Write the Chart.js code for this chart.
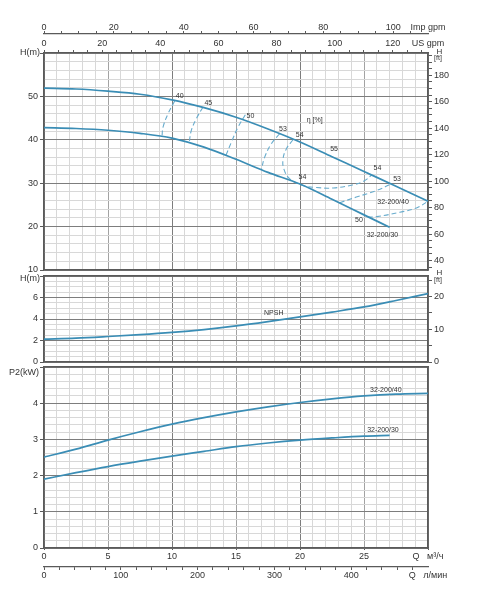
<!DOCTYPE html>
<html>
<head>
<meta charset="utf-8">
<script src="https://cdn.jsdelivr.net/npm/chart.js@4.4.0/dist/chart.umd.min.js"></script>
<style>
  html, body { margin: 0; padding: 0; background: #fff; }
  #wrap { position: relative; width: 478px; height: 600px; }
  canvas { position: absolute; left: 0; top: 0; }
</style>
</head>
<body>
<div id="wrap">
  <canvas id="head-chart" width="478" height="600"></canvas>
  <canvas id="npsh-chart" width="478" height="600"></canvas>
  <canvas id="power-chart" width="478" height="600"></canvas>
</div>
<script>
// Head curves, Q in m3/h, H in m
let qHead40 = [0, 2.5, 5, 7.5, 10, 12.5, 15, 17.5, 20, 22.5, 25, 27.5, 30];
let head40 = [51.9, 51.7, 51.2, 50.5, 49.2, 47.4, 45.2, 42.5, 39.5, 36.1, 32.7, 29.3, 25.85];
let qHead30 = [0, 2.5, 5, 7.5, 10, 12.5, 15, 17.5, 20, 22.5, 25, 27];
let head30 = [42.8, 42.6, 42.2, 41.5, 40.4, 38.3, 35.5, 32.5, 29.8, 26.3, 22.7, 19.85];

// Iso-efficiency lines (dashed)
let eff40Q = [10.21, 9.69, 9.30, 9.22];
let eff40H = [48.93, 46.0, 42.93, 40.78];
let eff45Q = [12.42, 11.9, 11.51, 11.33];
let eff45H = [47.54, 44.85, 42.16, 39.08];
let eff50Q = [15.73, 15.16, 14.64, 14.2];
let eff50H = [45.78, 42.93, 39.47, 36.31];
let eff53Q = [18.41, 17.76, 17.24, 16.98];
let eff53H = [41.39, 39.08, 36.0, 33.08];
let eff54Q = [19.45, 18.93, 18.67, 18.75, 19.2, 20.2, 21.3, 22.6, 24.1, 25.0, 25.6];
let eff54H = [40.0, 37.9, 35.5, 33.2, 31.0, 29.5, 29.0, 28.9, 29.6, 30.5, 31.9];
let eff53bQ = [23.1, 24.4, 25.97, 27.1];
let eff53bH = [25.5, 26.8, 28.3, 29.8];
let eff50bQ = [25.3, 26.0, 27.8, 29.1, 30.0];
let eff50bH = [22.2, 22.3, 23.3, 24.3, 25.85];

// NPSH, m
let qNpsh = [0, 2.5, 5, 7.5, 10, 12.5, 15, 17.5, 20, 22.5, 25, 27.5, 30];
let npsh = [2.13, 2.22, 2.37, 2.54, 2.75, 3.02, 3.36, 3.76, 4.19, 4.64, 5.12, 5.72, 6.36];

// Shaft power P2, kW
let qPower40 = [0, 2.5, 5, 7.5, 10, 12.5, 15, 17.5, 20, 22.5, 25, 27.5, 30];
let power40 = [2.51, 2.73, 2.98, 3.21, 3.42, 3.60, 3.76, 3.90, 4.02, 4.12, 4.20, 4.25, 4.27];
let qPower30 = [0, 2.5, 5, 7.5, 10, 12.5, 15, 17.5, 20, 22.5, 25, 27];
let power30 = [1.90, 2.08, 2.25, 2.40, 2.54, 2.67, 2.80, 2.90, 2.98, 3.04, 3.09, 3.11];

// Notes written on the curves
let headNotes = ['40', '45', '50', '53', '54', 'η [%]', '55', '54', '53', '54', '32-200/40', '50', '32-200/30'];
let headNotesQ = [10.6, 12.84, 16.13, 18.67, 19.98, 21.15, 22.66, 26.05, 27.58, 20.19, 27.27, 24.61, 26.44];
let headNotesH = [50.17, 48.46, 45.46, 42.55, 41.17, 44.47, 37.94, 33.46, 30.85, 31.38, 25.61, 21.55, 18.16];
let npshNotes = ['NPSH'];
let npshNotesQ = [17.95];
let npshNotesH = [4.51];
let powerNotes = ['32-200/40', '32-200/30'];
let powerNotesQ = [26.7, 26.48];
let powerNotesP = [4.36, 3.26];

// Tick labels
let m3hLabels = [0, 5, 10, 15, 20, 25];
let lminLabels = [0, 100, 200, 300, 400];
let usLabels = [0, 20, 40, 60, 80, 100, 120];
let impLabels = [0, 20, 40, 60, 80, 100];
let headLabels = [10, 20, 30, 40, 50];
let headFtLabels = [40, 60, 80, 100, 120, 140, 160, 180];
let npshLabels = [0, 2, 4, 6];
let npshFtLabels = [0, 10, 20];
let powerLabels = [0, 1, 2, 3, 4];

// unit conversions
const Q_MAX = 30;
const M3H_TO_LMIN = 1000 / 60;
const M3H_TO_US = 1000 / 60 / 3.785411784;
const M3H_TO_IMP = 1000 / 60 / 4.54609;
const M_TO_FT = 1 / 0.3048;

const CURVE = 'rgb(58, 141, 181)';
const DASH = 'rgb(104, 172, 205)';
const BORDER = '#5a5a5a';
const MAJOR = '#7d7d7d';
const MID = '#a3a3a3';
const MINOR = '#d8d8d8';
const TEXT = '#333';

Chart.defaults.font.family = '"Liberation Sans", Arial, sans-serif';
Chart.defaults.font.size = 9;
Chart.defaults.color = TEXT;

function near(v, list) {
  return list.some(l => Math.abs(l - v) < 1e-6);
}
function multiple(v, step) {
  let r = v / step;
  return Math.abs(r - Math.round(r)) < 1e-6;
}
function curve(xs, ys, dashed) {
  return {
    data: xs.map((x, i) => ({x: x, y: ys[i]})),
    borderColor: dashed ? DASH : CURVE,
    borderWidth: dashed ? 1.1 : 1.7,
    borderDash: dashed ? [5, 3] : [],
    pointRadius: 0,
    fill: false,
    tension: 0.4,
    cubicInterpolationMode: dashed ? 'default' : 'monotone'
  };
}
function notes(texts, qs, vs) {
  return texts.map((t, i) => ({text: t, q: qs[i], v: vs[i]}));
}
function flowGridColor(c) {
  let v = c.tick.value;
  if (multiple(v, 10)) return MAJOR;
  return multiple(v, 5) ? MID : MINOR;
}

// flow grid axis shared by the three panels
function flowAxis(extra) {
  return Object.assign({
    type: 'linear',
    position: 'bottom',
    min: 0,
    max: Q_MAX,
    ticks: {display: false, stepSize: 1},
    grid: {color: flowGridColor, drawTicks: false},
    border: {color: BORDER, width: 1.6},
    afterFit: s => { s.height = 0; }
  }, extra);
}

// extra flow unit axis (gpm, l/min)
function unitAxis(position, factor, labels, caption, weight, tickStep, height, padding) {
  let max = Q_MAX * factor;
  return {
    type: 'linear',
    position: position,
    weight: weight,
    min: 0,
    max: max,
    afterBuildTicks: s => {
      let t = [];
      for (let v = 0; v < max - 0.5; v += tickStep) t.push({value: v});
      t.push({value: max});
      s.ticks = t;
    },
    ticks: {
      autoSkip: false, maxRotation: 0, minRotation: 0, padding: padding,
      font: {size: 9, lineHeight: 1},
      callback: (v, i, ticks) => i === ticks.length - 1 ? caption : (near(v, labels) ? String(v) : '')
    },
    grid: {
      drawOnChartArea: false, tickLength: 3,
      tickColor: c => c.index === c.scale.ticks.length - 1 ? 'transparent' : BORDER
    },
    border: {color: BORDER, width: 1.2},
    afterFit: s => { s.height = height; }
  };
}

function valueAxis(min, max, step, majorStep, labels) {
  return {
    type: 'linear',
    position: 'left',
    min: min,
    max: max,
    ticks: {
      stepSize: step, autoSkip: false, padding: 2,
      callback: v => near(v, labels) ? String(v) : ''
    },
    grid: {
      color: c => multiple(c.tick.value, majorStep) ? MAJOR : MINOR,
      tickLength: 4,
      tickColor: c => multiple(c.tick.value, majorStep) ? BORDER : 'transparent'
    },
    border: {color: BORDER, width: 1.6},
    afterFit: s => { s.width = 44; }
  };
}

function feetAxis(minM, maxM, step, labels) {
  let min = minM * M_TO_FT, max = maxM * M_TO_FT;
  return {
    type: 'linear',
    position: 'right',
    min: min,
    max: max,
    afterBuildTicks: s => {
      let t = [];
      for (let v = Math.ceil(min / step) * step; v <= max; v += step) t.push({value: v});
      s.ticks = t;
    },
    ticks: {
      autoSkip: false, padding: 2,
      callback: v => near(v, labels) ? String(v) : ''
    },
    grid: {drawOnChartArea: false, tickLength: 4, tickColor: BORDER},
    border: {color: BORDER, width: 1.6},
    afterFit: s => { s.width = 50; }
  };
}

function frameAxis(position) {
  let horizontal = position === 'top';
  return {
    type: 'linear',
    position: position,
    min: 0,
    max: 1,
    ticks: {display: false},
    grid: {drawOnChartArea: false, drawTicks: false},
    border: {color: BORDER, width: 1.6},
    afterFit: s => { if (horizontal) s.height = 0; else s.width = 50; }
  };
}

// writes the curve notes and the axis titles
const captions = {
  id: 'captions',
  afterDraw(chart, args, opts) {
    const ctx = chart.ctx;
    const area = chart.chartArea;
    const xs = chart.scales.x, ys = chart.scales.y;
    ctx.save();
    ctx.fillStyle = TEXT;
    ctx.textBaseline = 'middle';
    ctx.textAlign = 'center';
    ctx.font = '7px "Liberation Sans", Arial, sans-serif';
    (opts.notes || []).forEach(n => {
      ctx.fillText(n.text, xs.getPixelForValue(n.q), ys.getPixelForValue(n.v));
    });
    (opts.titles || []).forEach(t => {
      ctx.font = t.size + 'px "Liberation Sans", Arial, sans-serif';
      ctx.textAlign = t.align;
      let x = (t.side === 'left' ? area.left : area.right) + t.dx;
      ctx.fillText(t.text, x, area.top + t.dy);
    });
    ctx.restore();
  }
};

const common = {
  responsive: false,
  animation: false,
  events: [],
  plugins: {legend: {display: false}, tooltip: {enabled: false}}
};

// Head panel
new Chart(document.getElementById('head-chart'), {
  type: 'line',
  data: {
    datasets: [
      curve(qHead40, head40, false),
      curve(qHead30, head30, false),
      curve(eff40Q, eff40H, true),
      curve(eff45Q, eff45H, true),
      curve(eff50Q, eff50H, true),
      curve(eff53Q, eff53H, true),
      curve(eff54Q, eff54H, true),
      curve(eff53bQ, eff53bH, true),
      curve(eff50bQ, eff50bH, true)
    ]
  },
  options: Object.assign({}, common, {
    layout: {padding: {top: 20, bottom: 330, left: 0, right: 0}},
    scales: {
      x: flowAxis({}),
      imp: unitAxis('top', M3H_TO_IMP, impLabels, 'Imp gpm', 2, 5, 14, -1.5),
      us: unitAxis('top', M3H_TO_US, usLabels, 'US gpm', 1, 5, 19, 1.7),
      y: valueAxis(10, 60, 2, 10, headLabels),
      ft: feetAxis(10, 60, 5, headFtLabels)
    },
    plugins: Object.assign({}, common.plugins, {
      captions: {
        notes: notes(headNotes, headNotesQ, headNotesH),
        titles: [
          {text: 'H(m)', side: 'left', dx: -4, dy: 0, align: 'right', size: 9},
          {text: 'H', side: 'right', dx: 11.5, dy: -1.5, align: 'center', size: 8},
          {text: '[ft]', side: 'right', dx: 10, dy: 5, align: 'center', size: 7}
        ]
      }
    })
  }),
  plugins: [captions]
});

// NPSH panel
new Chart(document.getElementById('npsh-chart'), {
  type: 'line',
  data: {datasets: [curve(qNpsh, npsh, false)]},
  options: Object.assign({}, common, {
    layout: {padding: {top: 276, bottom: 238, left: 0, right: 0}},
    scales: {
      x: flowAxis({}),
      top: frameAxis('top'),
      y: valueAxis(0, 8, 0.5, 2, npshLabels),
      ft: feetAxis(0, 8, 5, npshFtLabels)
    },
    plugins: Object.assign({}, common.plugins, {
      captions: {
        notes: notes(npshNotes, npshNotesQ, npshNotesH),
        titles: [
          {text: 'H(m)', side: 'left', dx: -4, dy: 3, align: 'right', size: 9},
          {text: 'H', side: 'right', dx: 11.5, dy: -3, align: 'center', size: 8},
          {text: '[ft]', side: 'right', dx: 10, dy: 4, align: 'center', size: 7}
        ]
      }
    })
  }),
  plugins: [captions]
});

// Power panel
new Chart(document.getElementById('power-chart'), {
  type: 'line',
  data: {
    datasets: [
      curve(qPower40, power40, false),
      curve(qPower30, power30, false)
    ]
  },
  options: Object.assign({}, common, {
    layout: {padding: {top: 367, bottom: 18, left: 0, right: 0}},
    scales: {
      x: flowAxis({
        weight: 0,
        ticks: {
          display: true, stepSize: 1, autoSkip: false, maxRotation: 0, minRotation: 0, padding: 2.5,
          font: {size: 9, lineHeight: 1},
          callback: v => v === Q_MAX ? 'Q   м³/ч' : (near(v, m3hLabels) ? String(v) : '')
        },
        grid: {
          color: flowGridColor,
          tickLength: 2,
          tickColor: c => multiple(c.tick.value, 5) ? BORDER : 'transparent'
        },
        afterFit: s => { s.height = 19; }
      }),
      lmin: unitAxis('bottom', M3H_TO_LMIN, lminLabels, 'Q   л/мин', 1, 20, 15, 1),
      top: frameAxis('top'),
      y: valueAxis(0, 5, 0.2, 1, powerLabels),
      right: frameAxis('right')
    },
    plugins: Object.assign({}, common.plugins, {
      captions: {
        notes: notes(powerNotes, powerNotesQ, powerNotesP),
        titles: [
          {text: 'P2(kW)', side: 'left', dx: -5, dy: 6, align: 'right', size: 9}
        ]
      }
    })
  }),
  plugins: [captions]
});
</script>
</body>
</html>
